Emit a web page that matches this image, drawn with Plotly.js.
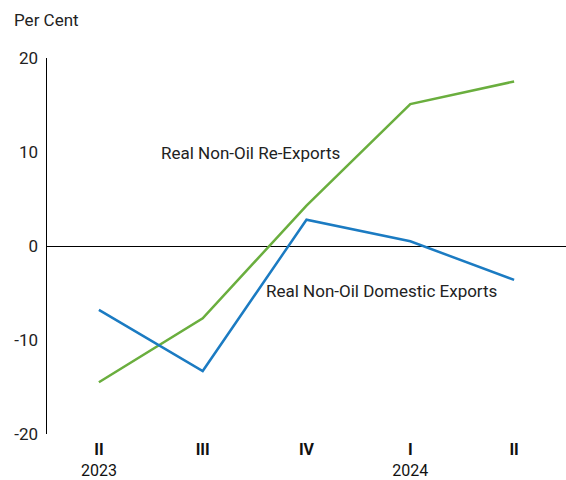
<!DOCTYPE html>
<html>
<head>
<meta charset="utf-8">
<script src="https://cdn.plot.ly/plotly-3.0.1.min.js"></script>
<style>html,body{margin:0;padding:0;background:#fff}#chart{width:566px;height:480px}</style>
</head>
<body>
<div id="chart"></div>
<script>
const quarters = ["II", "III", "IV", "I", "II"];
const years = ["2023", "", "", "2024", ""];
const reExports = [-14.5, -7.7, 4.3, 15.1, 17.5];
const domesticExports = [-6.8, -13.3, 2.8, 0.5, -3.6];
const yTicks = [-20, -10, 0, 10, 20];

const xIdx = quarters.map((_, i) => i);
const tickText = quarters.map((q, i) => "<b>" + q + "</b><br>" + (years[i] || " "));

const font = "Roboto, 'DejaVu Sans', sans-serif";

const traces = [
  {x: xIdx, y: reExports, type: "scatter", mode: "lines",
   line: {color: "#6aae3e", width: 2.5}, hoverinfo: "skip"},
  {x: xIdx, y: domesticExports, type: "scatter", mode: "lines",
   line: {color: "#1b7bc2", width: 2.5}, hoverinfo: "skip"}
];

const layout = {
  width: 566, height: 480,
  margin: {l: 47, r: 0, t: 58, b: 46},
  paper_bgcolor: "#fff", plot_bgcolor: "#fff",
  showlegend: false,
  font: {family: font, size: 17, color: "#222"},
  xaxis: {
    range: [-0.5, 4.5], tickvals: xIdx, ticktext: tickText,
    showgrid: false, zeroline: false, showline: false, ticks: "",
    ticklabelstandoff: 4,
    tickfont: {size: 16, color: "#111"}, fixedrange: true
  },
  yaxis: {
    range: [-20, 20], tickvals: yTicks, ticktext: yTicks.map(String),
    showgrid: false, zeroline: true, zerolinecolor: "#000", zerolinewidth: 1,
    showline: true, linecolor: "#000", linewidth: 1.5, ticks: "",
    ticklabelstandoff: 4,
    tickfont: {size: 17, color: "#222"}, fixedrange: true
  },
  annotations: [
    {text: "Per Cent", xref: "paper", yref: "paper", x: -47/519, y: 1 + 38/376,
     xanchor: "left", yanchor: "middle", showarrow: false, xshift: 12,
     font: {size: 17, color: "#222"}},
    {text: "Real Non-Oil Re-Exports", xref: "x", yref: "y", x: 0.58, y: 9.9,
     xanchor: "left", yanchor: "middle", showarrow: false,
     font: {size: 17, color: "#222"}},
    {text: "Real Non-Oil Domestic Exports", xref: "x", yref: "y", x: 1.59, y: -4.8,
     xanchor: "left", yanchor: "middle", showarrow: false,
     font: {size: 17, color: "#222"}}
  ]
};

Plotly.newPlot("chart", traces, layout, {displayModeBar: false, staticPlot: true});
</script>
</body>
</html>
